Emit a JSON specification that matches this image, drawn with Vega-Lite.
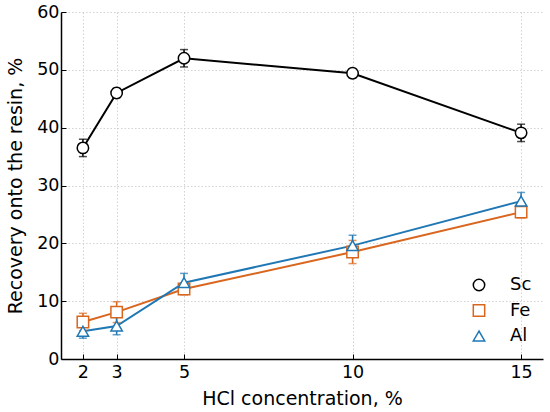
{
  "$schema": "https://vega.github.io/schema/vega-lite/v6.json",
  "autosize": "none",
  "width": 482,
  "height": 347,
  "padding": {"left": 61, "top": 12, "right": 7, "bottom": 53},
  "background": "white",
  "config": {
    "font": "DejaVu Sans",
    "view": {"stroke": null},
    "axis": {
      "domainColor": "black",
      "domainWidth": 1.5,
      "tickColor": "black",
      "tickWidth": 1,
      "tickSize": -5,
      "labelFont": "DejaVu Sans",
      "labelFontSize": 17.5,
      "labelColor": "black",
      "titleFont": "DejaVu Sans",
      "titleFontSize": 19,
      "titleFontWeight": "normal",
      "titleColor": "black",
      "gridColor": "#c8c8c8",
      "gridDash": [1.5, 2],
      "gridWidth": 0.8
    }
  },
  "data": {
    "values": [
      {"conc": 2, "metal": "Sc", "rec": 36.5, "err": 1.5},
      {"conc": 3, "metal": "Sc", "rec": 46.0, "err": 0.8},
      {"conc": 5, "metal": "Sc", "rec": 52.0, "err": 1.5},
      {"conc": 10, "metal": "Sc", "rec": 49.4, "err": 0.8},
      {"conc": 15, "metal": "Sc", "rec": 39.1, "err": 1.5},
      {"conc": 2, "metal": "Fe", "rec": 6.4, "err": 1.5},
      {"conc": 3, "metal": "Fe", "rec": 8.1, "err": 1.8},
      {"conc": 5, "metal": "Fe", "rec": 12.1, "err": 1.0},
      {"conc": 10, "metal": "Fe", "rec": 18.5, "err": 2.0},
      {"conc": 15, "metal": "Fe", "rec": 25.4, "err": 1.0},
      {"conc": 2, "metal": "Al", "rec": 4.8, "err": 1.2},
      {"conc": 3, "metal": "Al", "rec": 5.7, "err": 1.5},
      {"conc": 5, "metal": "Al", "rec": 13.2, "err": 1.6},
      {"conc": 10, "metal": "Al", "rec": 19.6, "err": 1.8},
      {"conc": 15, "metal": "Al", "rec": 27.3, "err": 1.5}
    ]
  },
  "encoding": {
    "x": {
      "field": "conc",
      "type": "quantitative",
      "title": "HCl concentration, %",
      "scale": {"domain": [1.35, 15.65], "nice": false, "zero": false},
      "axis": {"values": [2, 3, 5, 10, 15], "labelPadding": 9, "titlePadding": 9}
    },
    "y": {
      "field": "rec",
      "type": "quantitative",
      "title": "Recovery onto the resin, %",
      "scale": {"domain": [0, 60], "nice": false},
      "axis": {"values": [0, 10, 20, 30, 40, 50, 60], "labelPadding": 7, "titlePadding": 11}
    }
  },
  "resolve": {"legend": {"color": "independent", "shape": "independent"}},
  "layer": [
    {
      "mark": {"type": "line", "strokeWidth": 2},
      "encoding": {
        "color": {
          "field": "metal",
          "type": "nominal",
          "scale": {"domain": ["Sc", "Fe", "Al"], "range": ["#000000", "#d9661f", "#1f77b4"]},
          "legend": null
        }
      }
    },
    {
      "mark": {"type": "errorbar", "thickness": 1.5, "ticks": {"size": 8, "thickness": 1.5}},
      "encoding": {
        "yError": {"field": "err"},
        "color": {"field": "metal", "type": "nominal", "legend": null}
      }
    },
    {
      "mark": {"type": "point", "filled": false, "fill": "white", "fillOpacity": 1, "opacity": 1, "strokeWidth": 1.5, "size": 130},
      "encoding": {
        "shape": {
          "field": "metal",
          "type": "nominal",
          "scale": {"domain": ["Sc", "Fe", "Al"], "range": ["circle", "square", "triangle-up"]},
          "legend": null
        },
        "color": {
          "field": "metal",
          "type": "nominal",
          "legend": {
            "title": null,
            "orient": "none",
            "legendX": 409,
            "legendY": 264,
            "labelFontSize": 18,
            "labelFont": "DejaVu Sans",
            "labelColor": "black",
            "labelOffset": 22,
            "symbolSize": 130,
            "symbolStrokeWidth": 1.5,
            "symbolFillColor": "white",
            "rowPadding": 7.5
          }
        }
      }
    }
  ]
}
